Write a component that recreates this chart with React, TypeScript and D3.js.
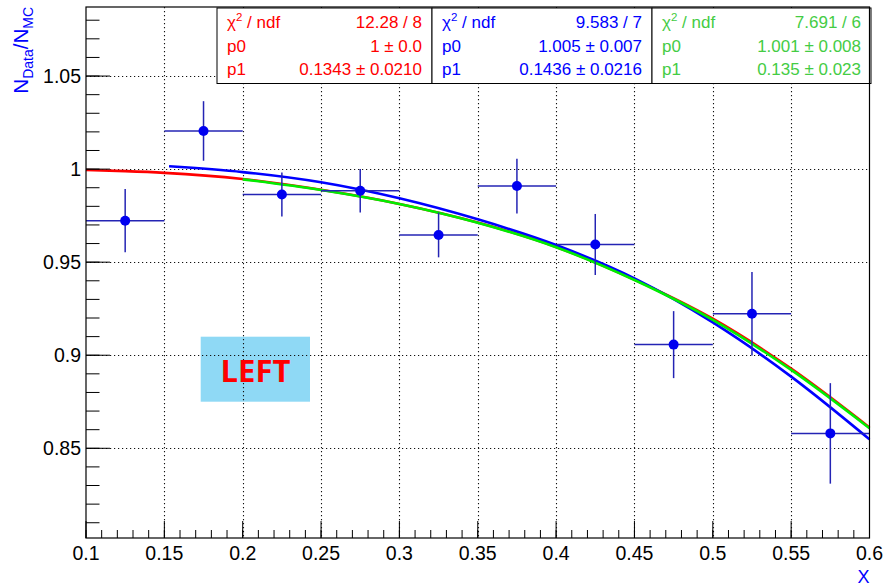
import React from "react";
import * as d3 from "d3";

// ---- data ----
const binCenters = [0.125, 0.175, 0.225, 0.275, 0.325, 0.375, 0.425, 0.475, 0.525, 0.575];
const binHalfWidth = 0.025;
const ratioValues = [0.9723, 1.0205, 0.9864, 0.9884, 0.9646, 0.9909, 0.9595, 0.9057, 0.9223, 0.858];
const ratioErrors = [0.017, 0.016, 0.0118, 0.0117, 0.012, 0.0147, 0.0164, 0.018, 0.0224, 0.027];

// fit curves
const redX = [0.1, 0.125, 0.15, 0.2, 0.25, 0.3, 0.35, 0.4, 0.45, 0.5, 0.55, 0.6];
const redY = [0.9995, 0.9989, 0.998, 0.9947, 0.9889, 0.9813, 0.9713, 0.9582, 0.9406, 0.9196, 0.8928, 0.8612];
const blueX = [0.153, 0.2, 0.25, 0.3, 0.35, 0.4, 0.45, 0.5, 0.55, 0.6];
const blueY = [1.0015, 0.9984, 0.9929, 0.9843, 0.973, 0.9592, 0.9413, 0.9176, 0.8885, 0.8548];
const greenX = [0.2, 0.25, 0.3, 0.35, 0.4, 0.45, 0.5, 0.55, 0.6];
const greenY = [0.9945, 0.9888, 0.9813, 0.9712, 0.958, 0.9404, 0.919, 0.8921, 0.8608];

const xMajorTicks = [0.1, 0.15, 0.2, 0.25, 0.3, 0.35, 0.4, 0.45, 0.5, 0.55, 0.6];
const xTickLabels = ["0.1", "0.15", "0.2", "0.25", "0.3", "0.35", "0.4", "0.45", "0.5", "0.55", "0.6"];
const yMajorTicks = [0.85, 0.9, 0.95, 1.0, 1.05];
const yTickLabels = ["0.85", "0.9", "0.95", "1", "1.05"];

const chi2Labels = ["12.28 / 8", "9.583 / 7", "7.691 / 6"];
const p0Labels = ["1 \u00b1 0.0", "1.005 \u00b1 0.007", "1.001 \u00b1 0.008"];
const p1Labels = ["0.1343 \u00b1 0.0210", "0.1436 \u00b1 0.0216", "0.135 \u00b1 0.023"];

// ---- layout / style ----
const W = 883, H = 586;
const X0 = 86, X1 = 869.5, Y0 = 7, Y1 = 538;
const FONT = "'Liberation Sans', Arial, Helvetica, sans-serif";
const fitColors = ["#ff0000", "#0000ff", "#00ee00"];
const statColors = ["#ff0000", "#0000ff", "#44cc44"];
const boxEdges = [[217, 432], [432, 652], [652, 871]];

export default function App() {
  const x = d3.scaleLinear().domain([0.1, 0.6]).range([X0, X1]);
  const y = d3.scaleLinear().domain([0.8018, 1.0871]).range([Y1, Y0]);

  const xMinor = d3.range(0, 51).map((i) => 0.1 + i * 0.01);
  const yMinor = d3.range(0, 29).map((i) => 0.81 + i * 0.01).filter((v) => v < 1.087);

  const line = d3
    .line<[number, number]>()
    .x((d) => x(d[0]))
    .y((d) => y(d[1]))
    .curve(d3.curveMonotoneX);

  const curves = [
    { xs: redX, ys: redY, c: fitColors[0] },
    { xs: blueX, ys: blueY, c: fitColors[1] },
    { xs: greenX, ys: greenY, c: fitColors[2] },
  ];

  const gridStyle = { stroke: "#111", strokeWidth: 1.1, strokeDasharray: "1.2,2.8" };

  return (
    <svg
      width={W}
      height={H}
      style={{ position: "fixed", left: 0, top: 0, background: "#fff" }}
      fontFamily={FONT}
    >
      <rect x={0} y={0} width={W} height={H} fill="#fff" />

      {/* LEFT box background */}
      <rect x={200.7} y={336.7} width={109.3} height={65} fill="#8fd9f5" />

      {/* grid */}
      {xMajorTicks.slice(1, -1).map((v, i) => (
        <line key={"gx" + i} x1={Math.round(x(v)) + 0.5} x2={Math.round(x(v)) + 0.5} y1={Y0} y2={Y1} {...gridStyle} />
      ))}
      {yMajorTicks.map((v, i) => (
        <line key={"gy" + i} x1={X0} x2={X1} y1={Math.round(y(v)) + 0.5} y2={Math.round(y(v)) + 0.5} {...gridStyle} />
      ))}

      {/* LEFT label */}
      <text
        x={255.5}
        y={381.5}
        textAnchor="middle"
        fontFamily="'Open Sans', 'Noto Sans', sans-serif"
        fontWeight={700}
        fontSize={31}
        fill="#ff0000"
      >
        LEFT
      </text>

      {/* fit curves */}
      {curves.map((cv, i) => (
        <path
          key={"c" + i}
          d={line(cv.xs.map((v, j) => [v, cv.ys[j]] as [number, number])) || ""}
          fill="none"
          stroke={cv.c}
          strokeWidth={2.6}
        />
      ))}

      {/* data points */}
      {binCenters.map((bc, i) => {
        const cx = x(bc);
        const cy = y(ratioValues[i]);
        return (
          <g key={"p" + i}>
            <line
              x1={x(bc - binHalfWidth)}
              x2={x(bc + binHalfWidth)}
              y1={cy}
              y2={cy}
              stroke="#2424b4"
              strokeWidth={1.5}
            />
            <line
              x1={cx}
              x2={cx}
              y1={y(ratioValues[i] + ratioErrors[i])}
              y2={y(ratioValues[i] - ratioErrors[i])}
              stroke="#2424b4"
              strokeWidth={1.5}
            />
            <circle cx={cx} cy={cy} r={5} fill="#0000f0" />
          </g>
        );
      })}

      {/* stat boxes */}
      {boxEdges.map(([l, r], i) => (
        <g key={"s" + i} fill={statColors[i]} fontSize={17}>
          <rect x={l} y={8} width={r - l} height={75.5} fill="#fff" stroke="#000" strokeWidth={1} />
          <text x={l + 10} y={28}>
            {"\u03c7"}
            <tspan fontSize={11.5} dy={-7}>2</tspan>
            <tspan dy={7}>{" / ndf"}</tspan>
          </text>
          <text x={r - 10} y={28} textAnchor="end">{chi2Labels[i]}</text>
          <text x={l + 10} y={51.5}>p0</text>
          <text x={r - 10} y={51.5} textAnchor="end">{p0Labels[i]}</text>
          <text x={l + 10} y={75}>p1</text>
          <text x={r - 10} y={75} textAnchor="end">{p1Labels[i]}</text>
        </g>
      ))}

      {/* frame */}
      <rect x={X0} y={Y0} width={X1 - X0} height={Y1 - Y0} fill="none" stroke="#000" strokeWidth={1.2} />

      {/* x ticks */}
      {xMinor.map((v, i) => (
        <line key={"xm" + i} x1={x(v)} x2={x(v)} y1={Y1} y2={Y1 - 8} stroke="#000" strokeWidth={1} />
      ))}
      {xMajorTicks.map((v, i) => (
        <g key={"xM" + i}>
          <line x1={x(v)} x2={x(v)} y1={Y1} y2={Y1 - 17} stroke="#000" strokeWidth={1} />
          <text x={x(v)} y={560} textAnchor="middle" fontSize={19.5} fill="#000">
            {xTickLabels[i]}
          </text>
        </g>
      ))}

      {/* y ticks */}
      {yMinor.map((v, i) => (
        <line key={"ym" + i} x1={X0} x2={X0 + 13.5} y1={y(v)} y2={y(v)} stroke="#000" strokeWidth={1} />
      ))}
      {yMajorTicks.map((v, i) => (
        <g key={"yM" + i}>
          <line x1={X0} x2={X0 + 24} y1={y(v)} y2={y(v)} stroke="#000" strokeWidth={1} />
          <text x={81} y={y(v) + 7} textAnchor="end" fontSize={19.5} fill="#000">
            {yTickLabels[i]}
          </text>
        </g>
      ))}

      {/* axis titles */}
      <text x={X1} y={583} textAnchor="end" fontSize={18} fill="#0000ff">X</text>
      <text transform="translate(28,7) rotate(-90)" textAnchor="end" fontSize={20.5} fill="#0000ff">
        N
        <tspan fontSize={14} dy={5}>Data</tspan>
        <tspan dy={-5}>/N</tspan>
        <tspan fontSize={14} dy={5}>MC</tspan>
      </text>
    </svg>
  );
}
